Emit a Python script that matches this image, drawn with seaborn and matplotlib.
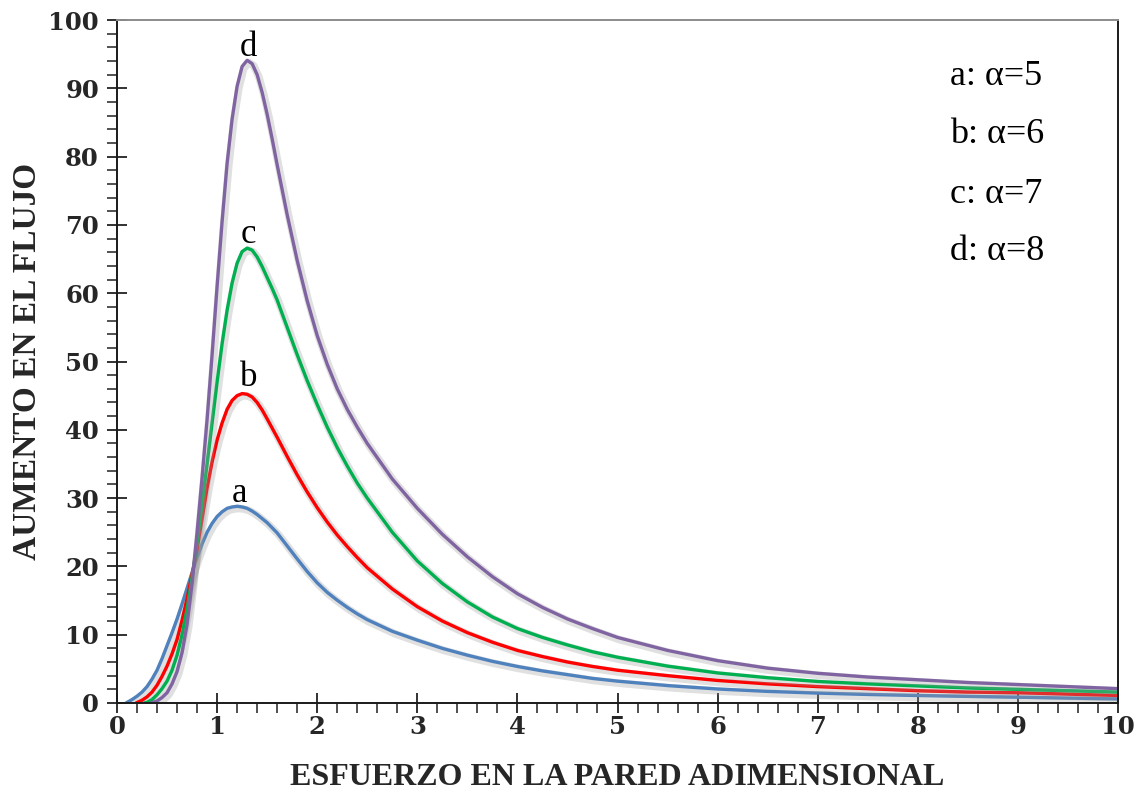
import numpy as np
import pandas as pd
import matplotlib
matplotlib.use("Agg")
import matplotlib.pyplot as plt
import matplotlib.patheffects as pe
from matplotlib.ticker import MultipleLocator
import seaborn as sns

# Flow increase vs. dimensionless wall stress for several alpha values
x_a = [0.09, 0.15, 0.2, 0.25, 0.3, 0.35, 0.4, 0.45, 0.5, 0.55, 0.6, 0.65, 0.7, 0.75,
       0.8, 0.85, 0.9, 0.95, 1.0, 1.05, 1.1, 1.15, 1.2, 1.25, 1.3, 1.35, 1.4, 1.45,
       1.5, 1.6, 1.7, 1.8, 1.9, 2.0, 2.1, 2.2, 2.3, 2.4, 2.5, 2.75, 3.0, 3.25, 3.5,
       3.75, 4.0, 4.25, 4.5, 4.75, 5.0, 5.5, 6.0, 6.5, 7.0, 7.5, 8.0, 8.5, 9.0, 9.5,
       10.0]
y_a = [0.0, 0.5, 1.0, 1.6, 2.4, 3.5, 4.8, 6.5, 8.4, 10.3, 12.3, 14.5, 16.8, 19.1,
       21.3, 23.3, 25.0, 26.3, 27.3, 28.0, 28.5, 28.7, 28.8, 28.7, 28.5, 28.1, 27.6,
       27.0, 26.4, 24.9, 23.0, 21.1, 19.25, 17.6, 16.2, 15.05, 14.0, 13.05, 12.2,
       10.5, 9.2, 8.0, 7.0, 6.1, 5.35, 4.7, 4.15, 3.6, 3.2, 2.55, 2.05, 1.7, 1.45,
       1.25, 1.1, 0.97, 0.85, 0.72, 0.6]

x_b = [0.19, 0.25, 0.3, 0.35, 0.4, 0.45, 0.5, 0.55, 0.6, 0.65, 0.7, 0.75, 0.8, 0.85,
       0.9, 0.95, 1.0, 1.05, 1.1, 1.15, 1.2, 1.25, 1.3, 1.35, 1.4, 1.45, 1.5, 1.6,
       1.7, 1.8, 1.9, 2.0, 2.1, 2.2, 2.3, 2.4, 2.5, 2.75, 3.0, 3.25, 3.5, 3.75, 4.0,
       4.25, 4.5, 4.75, 5.0, 5.5, 6.0, 6.5, 7.0, 7.5, 8.0, 8.5, 9.0, 9.5, 10.0]
y_b = [0.0, 0.4, 0.9, 1.6, 2.6, 3.9, 5.4, 7.2, 9.3, 12.1, 15.3, 18.8, 22.5, 27.0,
       31.5, 35.3, 38.5, 41.0, 43.0, 44.3, 45.0, 45.3, 45.2, 44.8, 44.0, 42.9, 41.6,
       38.9, 36.1, 33.4, 30.9, 28.6, 26.5, 24.6, 22.9, 21.3, 19.8, 16.7, 14.1, 12.0,
       10.3, 8.9, 7.7, 6.8, 6.0, 5.35, 4.8, 4.0, 3.3, 2.8, 2.4, 2.1, 1.8, 1.6, 1.5,
       1.3, 1.1]

x_c = [0.27, 0.3, 0.35, 0.4, 0.45, 0.5, 0.55, 0.6, 0.65, 0.7, 0.75, 0.8, 0.85, 0.9,
       0.95, 1.0, 1.05, 1.1, 1.15, 1.2, 1.25, 1.3, 1.35, 1.4, 1.45, 1.5, 1.55, 1.6,
       1.7, 1.8, 1.9, 2.0, 2.1, 2.2, 2.3, 2.4, 2.5, 2.75, 3.0, 3.25, 3.5, 3.75, 4.0,
       4.25, 4.5, 4.75, 5.0, 5.5, 6.0, 6.5, 7.0, 7.5, 8.0, 8.5, 9.0, 9.5, 10.0]
y_c = [0.0, 0.1, 0.5, 1.2, 2.1, 3.2, 4.8, 7.0, 10.0, 13.7, 18.3, 23.5, 29.2, 35.0,
       41.0, 47.0, 52.6, 57.5, 61.5, 64.4, 66.1, 66.6, 66.3, 65.3, 63.9, 62.3, 60.7,
       59.0, 55.0, 51.0, 47.2, 43.7, 40.4, 37.4, 34.7, 32.2, 30.0, 25.0, 20.8, 17.5,
       14.8, 12.6, 10.9, 9.6, 8.5, 7.5, 6.7, 5.4, 4.4, 3.7, 3.15, 2.8, 2.5, 2.2, 2.0,
       1.8, 1.6]

x_d = [0.34, 0.4, 0.45, 0.5, 0.55, 0.6, 0.65, 0.7, 0.75, 0.8, 0.85, 0.9, 0.95, 1.0,
       1.05, 1.1, 1.15, 1.2, 1.25, 1.3, 1.35, 1.4, 1.45, 1.5, 1.55, 1.6, 1.7, 1.8,
       1.9, 2.0, 2.1, 2.2, 2.3, 2.4, 2.5, 2.75, 3.0, 3.25, 3.5, 3.75, 4.0, 4.25, 4.5,
       4.75, 5.0, 5.5, 6.0, 6.5, 7.0, 7.5, 8.0, 8.5, 9.0, 9.5, 10.0]
y_d = [0.0, 0.3, 0.8, 1.5, 2.8, 4.6, 7.4, 11.5, 17.5, 25.0, 33.0, 41.5, 51.0, 61.0,
       70.5, 79.0, 85.5, 90.3, 93.2, 94.1, 93.6, 92.0, 89.4, 86.2, 82.6, 78.8, 71.5,
       64.8, 58.9, 53.8, 49.6, 46.0, 43.0, 40.4, 38.0, 32.8, 28.5, 24.7, 21.4, 18.5,
       16.0, 14.0, 12.3, 10.9, 9.6, 7.7, 6.2, 5.1, 4.35, 3.8, 3.4, 3.0, 2.7, 2.4, 2.1]

curve_ids = ["a", "b", "c", "d"]
alphas = [5, 6, 7, 8]
colors = ["#4F81BD", "#FF0000", "#00B050", "#8064A2"]
label_pos = [(1.22, 29.4), (1.32, 46.4), (1.315, 67.4), (1.315, 94.8)]

x_ticks = list(range(0, 11))
y_ticks = list(range(0, 101, 10))

frames = []
for cid, xs, ys in zip(curve_ids, [x_a, x_b, x_c, x_d], [y_a, y_b, y_c, y_d]):
    frames.append(pd.DataFrame({"x": xs, "y": ys, "curva": cid}))
df = pd.concat(frames, ignore_index=True)

sns.set_theme(style="white")
plt.rcParams["font.family"] = ["Liberation Serif", "DejaVu Serif"]

fig = plt.figure(figsize=(11.39, 7.94), dpi=100)
ax = fig.add_axes([117 / 1139, 1 - 703 / 794, (1118 - 117) / 1139, (703 - 20) / 794])

sns.lineplot(data=df, x="x", y="y", hue="curva", palette=dict(zip(curve_ids, colors)),
             sort=False, estimator=None, linewidth=2.4, legend=False, ax=ax)

for line in ax.lines:
    line.set_solid_joinstyle("round")
    line.set_solid_capstyle("round")
    line.set_path_effects([
        pe.SimpleLineShadow(offset=(1.2, -1.5), shadow_color="0.6", alpha=0.3,
                            linewidth=5.5),
        pe.Normal(),
    ])

ax.set_xlim(0, 10)
ax.set_ylim(0, 100)
ax.set_xticks(x_ticks)
ax.set_yticks(y_ticks)
ax.xaxis.set_minor_locator(MultipleLocator(0.2))
ax.yaxis.set_minor_locator(MultipleLocator(2))

tick_font = dict(family="DejaVu Serif", weight="bold", size=17.5)
ax.set_xticklabels([str(v) for v in x_ticks], fontdict=tick_font)
ax.set_yticklabels([str(v) for v in y_ticks], fontdict=tick_font)

ax.tick_params(which="major", direction="inout", length=14, width=1.3, color="#222222",
               bottom=True, left=True)
ax.tick_params(axis="x", which="major", pad=2)
ax.tick_params(axis="y", which="major", pad=6)
ax.tick_params(which="minor", direction="out", length=7, width=1.1, color="#222222",
               bottom=True, left=True)

for side in ["left", "bottom", "right"]:
    ax.spines[side].set_color("#1a1a1a")
    ax.spines[side].set_linewidth(1.4)
ax.spines["top"].set_color("#8c8c8c")
ax.spines["top"].set_linewidth(1.4)

ax.set_xlabel("ESFUERZO EN LA PARED ADIMENSIONAL", fontsize=23, fontweight="bold",
              family="Liberation Serif", labelpad=17)
ax.set_ylabel("AUMENTO EN EL FLUJO", fontsize=24, fontweight="bold",
              family="Liberation Serif", labelpad=4)

for cid, (lx, ly) in zip(curve_ids, label_pos):
    ax.text(lx, ly, cid, ha="center", va="baseline", fontsize=25, color="black")

legend_y = [91.7, 83.2, 74.5, 66.1]
for cid, a, ly in zip(curve_ids, alphas, legend_y):
    ax.text(8.32, ly, f"{cid}: α={a}", ha="left", va="center", fontsize=26,
            color="black")

fig.savefig("out.png", dpi=100, facecolor="white")
